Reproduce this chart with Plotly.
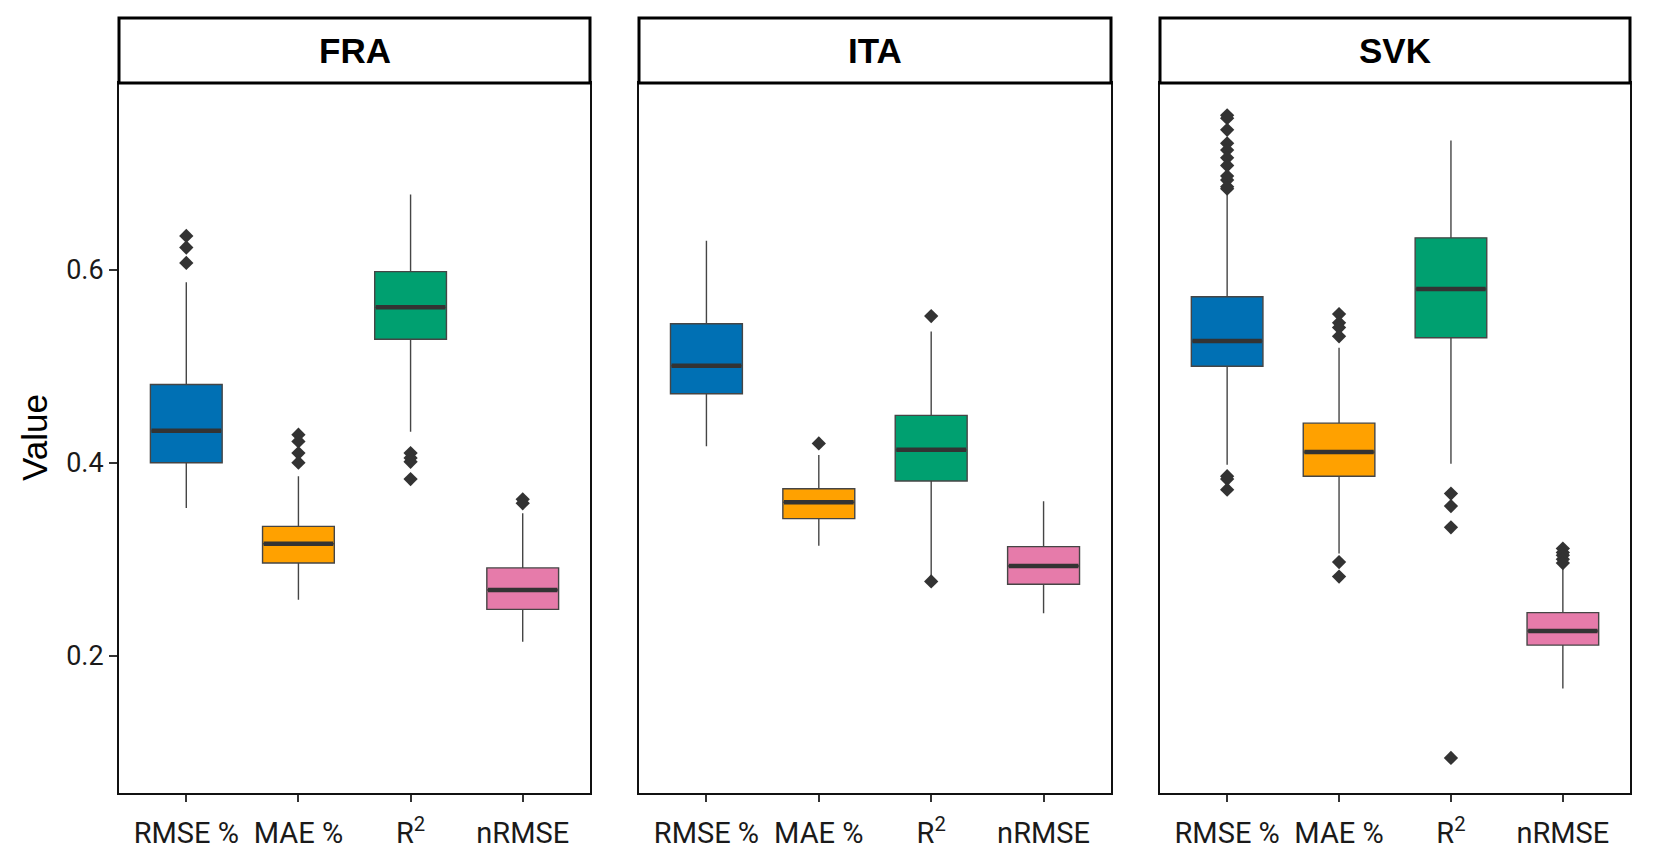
import plotly.graph_objects as go

# page is 1653x857, the html body adds an 8px margin, so the figure is a bit smaller
PAGE_W, PAGE_H, OFF = 1653, 857, 8
W, H = PAGE_W - OFF, PAGE_H - 2 * OFF

METRICS = ["RMSE %", "MAE %", "R<sup>2</sup>", "nRMSE"]
COUNTRIES = ["FRA", "ITA", "SVK"]
COLORS = ["#0070B4", "#FFA100", "#00A070", "#E67BAA"]

# box statistics per country, one value per metric (RMSE %, MAE %, R2, nRMSE)
FRA_LO = [0.353, 0.258, 0.432, 0.2145]
FRA_Q1 = [0.400, 0.296, 0.528, 0.248]
FRA_MED = [0.433, 0.316, 0.561, 0.268]
FRA_Q3 = [0.481, 0.334, 0.598, 0.291]
FRA_HI = [0.587, 0.386, 0.678, 0.3475]
FRA_OUT = [
    [0.635, 0.623, 0.607],
    [0.429, 0.422, 0.410, 0.400],
    [0.410, 0.405, 0.401, 0.383],
    [0.362, 0.358],
]

ITA_LO = [0.417, 0.314, 0.280, 0.244]
ITA_Q1 = [0.4715, 0.342, 0.381, 0.274]
ITA_MED = [0.5005, 0.359, 0.4135, 0.293]
ITA_Q3 = [0.544, 0.373, 0.449, 0.313]
ITA_HI = [0.630, 0.408, 0.536, 0.360]
ITA_OUT = [
    [],
    [0.420],
    [0.552, 0.277],
    [],
]

SVK_LO = [0.398, 0.306, 0.399, 0.166]
SVK_Q1 = [0.500, 0.386, 0.5295, 0.211]
SVK_MED = [0.526, 0.411, 0.580, 0.2256]
SVK_Q3 = [0.572, 0.441, 0.633, 0.2446]
SVK_HI = [0.680, 0.519, 0.734, 0.2922]
SVK_OUT = [
    [0.760, 0.757, 0.745, 0.731, 0.724, 0.716, 0.708, 0.697, 0.693, 0.686,
     0.684, 0.386, 0.383, 0.372],
    [0.554, 0.545, 0.540, 0.531, 0.297, 0.282],
    [0.368, 0.355, 0.333, 0.094],
    [0.311, 0.307, 0.304, 0.300, 0.296],
]

Y_TICKS = [0.2, 0.4, 0.6]
Y_RANGE = [0.0577, 0.7935]

STATS = {
    "FRA": (FRA_LO, FRA_Q1, FRA_MED, FRA_Q3, FRA_HI, FRA_OUT),
    "ITA": (ITA_LO, ITA_Q1, ITA_MED, ITA_Q3, ITA_HI, ITA_OUT),
    "SVK": (SVK_LO, SVK_Q1, SVK_MED, SVK_Q3, SVK_HI, SVK_OUT),
}

# panel geometry in page pixels
PANEL_X = [(119, 590), (639, 1111), (1160, 1630)]
PANEL_TOP, PANEL_BOTTOM, STRIP_TOP = 83, 793, 18
BOX_W = 0.64
DARK = "#333333"


def px_x(v):
    return (v - OFF) / W


def px_y(v):
    return 1 - (v - OFF) / H


fig = go.Figure()

for p, country in enumerate(COUNTRIES):
    lo, q1, med, q3, hi, out = STATS[country]
    xa = "x" if p == 0 else f"x{p + 1}"
    ya = "y" if p == 0 else f"y{p + 1}"
    for i, metric in enumerate(METRICS):
        fig.add_trace(go.Box(
            x=[i], q1=[q1[i]], median=[med[i]], q3=[q3[i]],
            lowerfence=[lo[i]], upperfence=[hi[i]],
            width=BOX_W, whiskerwidth=0,
            fillcolor=COLORS[i],
            line=dict(color="#454545", width=1.4),
            boxpoints=False, showlegend=False,
            xaxis=xa, yaxis=ya, hoverinfo="skip",
        ))
        # thick median bar
        fig.add_trace(go.Scatter(
            x=[i - BOX_W / 2 + 0.01, i + BOX_W / 2 - 0.01], y=[med[i], med[i]],
            mode="lines", line=dict(color=DARK, width=4.5),
            showlegend=False, xaxis=xa, yaxis=ya, hoverinfo="skip",
        ))
        if out[i]:
            fig.add_trace(go.Scatter(
                x=[i] * len(out[i]), y=out[i], mode="markers",
                marker=dict(symbol="diamond", size=11, color=DARK),
                showlegend=False, xaxis=xa, yaxis=ya, hoverinfo="skip",
            ))

layout = dict(
    width=W, height=H, autosize=False,
    paper_bgcolor="white", plot_bgcolor="white",
    margin=dict(l=0, r=0, t=0, b=0),
    font=dict(family="Roboto, Liberation Sans, sans-serif", color="#1a1a1a"),
    showlegend=False,
)

y0 = px_y(PANEL_BOTTOM)
y1 = px_y(PANEL_TOP)
shapes = []
annotations = []
for p, country in enumerate(COUNTRIES):
    sfx = "" if p == 0 else str(p + 1)
    x0, x1 = px_x(PANEL_X[p][0]), px_x(PANEL_X[p][1])
    layout[f"xaxis{sfx}"] = dict(
        domain=[x0, x1], anchor=f"y{sfx}", range=[-0.6, 3.6],
        tickvals=list(range(len(METRICS))), ticktext=METRICS,
        ticks="outside", ticklen=7, tickwidth=1.5, tickcolor=DARK,
        ticklabelstandoff=6,
        tickfont=dict(family="Roboto", size=29, color="#1a1a1a"),
        showline=True, linecolor="#111111", linewidth=2, mirror=True,
        showgrid=False, zeroline=False, automargin=False,
    )
    ya = dict(
        domain=[y0, y1], anchor=f"x{sfx}", range=Y_RANGE,
        showline=True, linecolor="#111111", linewidth=2, mirror=True,
        showgrid=False, zeroline=False, automargin=False,
    )
    if p == 0:
        ya.update(
            tickvals=Y_TICKS, ticktext=[f"{v:.1f}" for v in Y_TICKS],
            ticks="outside", ticklen=8, tickwidth=1.5, tickcolor=DARK,
            tickfont=dict(family="Roboto", size=27, color="#1a1a1a"),
        )
    else:
        ya.update(showticklabels=False, ticks="", tickvals=[])
    layout[f"yaxis{sfx}"] = ya
    shapes.append(dict(
        type="rect", xref="paper", yref="paper",
        x0=x0, x1=x1, y0=y1, y1=px_y(STRIP_TOP),
        line=dict(color="black", width=3), fillcolor="white", layer="above",
    ))
    annotations.append(dict(
        text=f"<b>{country}</b>", xref="paper", yref="paper",
        x=(x0 + x1) / 2, y=px_y((STRIP_TOP + PANEL_TOP) / 2),
        showarrow=False, xanchor="center", yanchor="middle",
        font=dict(family="Liberation Sans, Arial, sans-serif", size=35, color="black"),
    ))

annotations.append(dict(
    text="Value", xref="paper", yref="paper",
    x=px_x(34), y=px_y((PANEL_TOP + PANEL_BOTTOM) / 2),
    showarrow=False, textangle=-90, xanchor="center", yanchor="middle",
    font=dict(family="Liberation Sans, Arial, sans-serif", size=35, color="black"),
))

layout["shapes"] = shapes
layout["annotations"] = annotations
fig.update_layout(**layout)

fig.write_html("out.html")
